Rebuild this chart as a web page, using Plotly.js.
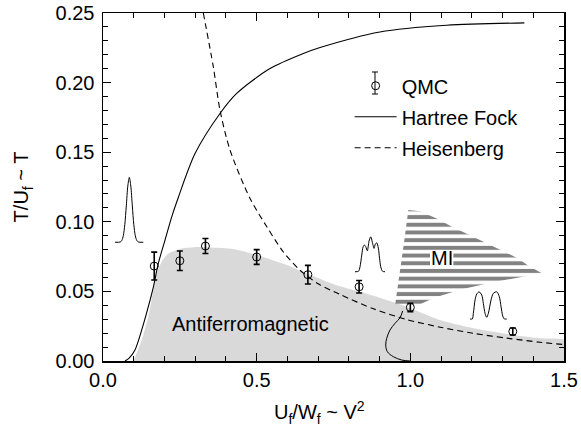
<!DOCTYPE html>
<html>
<head>
<meta charset="utf-8">
<script src="https://cdn.plot.ly/plotly-3.0.1.min.js"></script>
<style>
  html, body { margin: 0; padding: 0; background: #fff; }
  #chart { width: 581px; height: 431px; }
</style>
</head>
<body>
<div id="chart"></div>
<script>
// QMC Néel temperatures with statistical error bars
const qmcX   = [0.1667, 0.25, 0.3333, 0.5, 0.6667, 0.8333, 1.0, 1.3333];
const qmcY   = [0.0682, 0.0720, 0.0826, 0.0747, 0.0620, 0.0533, 0.0385, 0.0212];
const qmcErr = [0.0100, 0.0070, 0.0054, 0.0053, 0.0067, 0.0045, 0.0030, 0.0025];

// Hartree-Fock transition line
const hfX = [0.0716, 0.085, 0.104, 0.126, 0.1475, 0.164, 0.180, 0.2018, 0.2236, 0.245, 0.2994, 0.3807, 0.435, 0.5434, 0.6518, 0.7062, 0.901, 1.118, 1.371];
const hfY = [0.0, 0.002, 0.0079, 0.0223, 0.039, 0.0533, 0.0701, 0.0869, 0.1036, 0.1175, 0.149, 0.1778, 0.1922, 0.2101, 0.2209, 0.2252, 0.2364, 0.2412, 0.2429];

// Heisenberg limit
const heisX = [0.3264, 0.359, 0.3807, 0.4133, 0.4784, 0.533, 0.587, 0.641, 0.70, 0.771, 0.88, 0.988, 1.097, 1.205, 1.314, 1.422, 1.5];
const heisY = [0.25, 0.2113, 0.1802, 0.1515, 0.1168, 0.0964, 0.0783, 0.0652, 0.0555, 0.0478, 0.0375, 0.0298, 0.0243, 0.0199, 0.0164, 0.0135, 0.0118];

// Boundary of the antiferromagnetic phase (shaded)
const afX = [0.0987, 0.110, 0.126, 0.1475, 0.164, 0.175, 0.191, 0.2126, 0.256, 0.2994, 0.348, 0.424, 0.500, 0.598, 0.663, 0.750, 0.836, 0.900, 0.988, 1.097, 1.205, 1.314, 1.422, 1.5, 1.5];
const afY = [0.0, 0.006, 0.0151, 0.0318, 0.051, 0.063, 0.0713, 0.0773, 0.0809, 0.0818, 0.0815, 0.0804, 0.0761, 0.0689, 0.0628, 0.0552, 0.0497, 0.0455, 0.0390, 0.0294, 0.0235, 0.0194, 0.0163, 0.0151, 0.0];

// Mott-insulator region outline
const miX = [0.9936, 1.032, 1.091, 1.135, 1.189, 1.243, 1.297, 1.351, 1.384, 1.428, 1.276, 1.167, 1.080, 1.026, 0.950, 0.966, 0.9795];
const miY = [0.1084, 0.1075, 0.1019, 0.0964, 0.0909, 0.0852, 0.0797, 0.0737, 0.0684, 0.0630, 0.0569, 0.0515, 0.0457, 0.0402, 0.0395, 0.0625, 0.0852];

// Re-entrant line below the MI region
const reX = [0.975, 0.9665, 0.9502, 0.9339, 0.9232, 0.9199, 0.9252, 0.9447, 0.972, 0.999];
const reY = [0.036, 0.0311, 0.0271, 0.0223, 0.0163, 0.0115, 0.0067, 0.0031, 0.0007, 0.0];

// Spectral sketches: single band, three-peak and two-peak densities
const dos1X = [0.039, 0.0563, 0.0612, 0.0661, 0.0710, 0.0758, 0.0807, 0.0856, 0.0905, 0.0954, 0.1002, 0.1051, 0.1100, 0.1149, 0.1311];
const dos1Y = [0.0853, 0.0855, 0.0866, 0.0900, 0.0981, 0.1114, 0.1257, 0.1319, 0.1257, 0.1114, 0.0981, 0.0900, 0.0866, 0.0855, 0.0853];
const dos2X = [0.820, 0.8314, 0.8363, 0.8419, 0.8461, 0.8503, 0.8549, 0.8601, 0.8656, 0.8711, 0.8763, 0.8819, 0.8861, 0.8907, 0.8959, 0.8998, 0.9037, 0.9095, 0.9177];
const dos2Y = [0.0641, 0.0645, 0.0677, 0.0761, 0.0818, 0.0833, 0.0822, 0.0792, 0.0861, 0.0892, 0.0854, 0.0809, 0.0840, 0.0849, 0.0811, 0.0739, 0.0677, 0.0645, 0.0641];
const dos3X = [1.1943, 1.2018, 1.2050, 1.2106, 1.2161, 1.2236, 1.2324, 1.2375, 1.2431, 1.2486, 1.2538, 1.2626, 1.2701, 1.2812, 1.2896, 1.2952, 1.3007, 1.3059, 1.3137];
const dos3Y = [0.0302, 0.0302, 0.0342, 0.0438, 0.0481, 0.0497, 0.0474, 0.0414, 0.0342, 0.0314, 0.0342, 0.0438, 0.0486, 0.0497, 0.0462, 0.0390, 0.0323, 0.0302, 0.0302];

const FONT = 'Liberation Sans, Arial, Helvetica, sans-serif';
const sketch = (x, y) => ({
  x: x, y: y, type: 'scatter', mode: 'lines', showlegend: false, hoverinfo: 'skip',
  line: {color: 'black', width: 1, shape: 'spline', smoothing: 0.8}
});

const traces = [
  {x: afX, y: afY, type: 'scatter', mode: 'lines', fill: 'toself', fillcolor: '#d9d9d9',
   line: {width: 0, shape: 'spline', smoothing: 0.6}, showlegend: false, hoverinfo: 'skip'},
  {x: miX, y: miY, type: 'scatter', mode: 'lines', fill: 'toself', fillcolor: 'rgba(0,0,0,0)',
   fillpattern: {shape: '-', fgcolor: '#828282', bgcolor: 'rgba(0,0,0,0)', size: 7.7, solidity: 0.52, fillmode: 'replace'},
   line: {width: 0}, showlegend: false, hoverinfo: 'skip'},
  sketch(dos1X, dos1Y),
  sketch(dos2X, dos2Y),
  sketch(dos3X, dos3Y),
  {x: reX, y: reY, type: 'scatter', mode: 'lines', showlegend: false, hoverinfo: 'skip',
   line: {color: 'black', width: 1, shape: 'spline'}},
  {x: qmcX, y: qmcY, type: 'scatter', mode: 'markers', name: 'QMC', legendgroup: 'a',
   marker: {symbol: 'circle-open', size: 8, color: 'black', line: {width: 1, color: 'black'}},
   error_y: {type: 'data', array: qmcErr, visible: true, color: 'black', thickness: 1.6, width: 3}},
  {x: hfX, y: hfY, type: 'scatter', mode: 'lines', name: 'Hartree Fock', legendgroup: 'b',
   line: {color: 'black', width: 1.1, shape: 'spline', smoothing: 0.8}},
  {x: heisX, y: heisY, type: 'scatter', mode: 'lines', name: 'Heisenberg', legendgroup: 'c',
   line: {color: 'black', width: 1.1, dash: '6px,4px', shape: 'spline', smoothing: 0.8}}
];

const axisBase = {
  ticks: 'inside', ticklen: 8, tickwidth: 1.3, tickcolor: 'black',
  showline: true, linewidth: 1.5, linecolor: 'black', mirror: 'allticks',
  showgrid: false, zeroline: false, fixedrange: true,
  tickfont: {family: FONT, size: 20, color: 'black'}
};

// error-bar glyph through the QMC legend marker (paper coordinates)
const legX = 0.590, legY0 = 0.7672, legY1 = 0.8305, cap = 0.0065;

const layout = {
  width: 581, height: 431,
  margin: {l: 103, r: 17, t: 13, b: 70},
  paper_bgcolor: 'white', plot_bgcolor: 'white',
  font: {family: FONT, size: 20, color: 'black'},
  xaxis: Object.assign({}, axisBase, {
    range: [0, 1.5], tick0: 0, dtick: 0.5, tickformat: '.1f',
    minor: {dtick: 0.1, ticks: 'inside', ticklen: 5, tickwidth: 1, tickcolor: 'black', showgrid: false}
  }),
  yaxis: Object.assign({}, axisBase, {
    range: [0, 0.25], tick0: 0, dtick: 0.05, tickformat: '.2f', ticklabelstandoff: 3,
    minor: {dtick: 0.01, ticks: 'inside', ticklen: 5, tickwidth: 1, tickcolor: 'black', showgrid: false},
    title: {text: 'T/U<sub>f</sub> ~ T', font: {family: FONT, size: 20}, standoff: 21}
  }),
  showlegend: true,
  legend: {x: 0.535, y: 0.847, xanchor: 'left', yanchor: 'top', bgcolor: 'rgba(0,0,0,0)',
           font: {family: FONT, size: 20}, traceorder: 'grouped', tracegroupgap: 2, itemwidth: 42},
  shapes: [
    // white backing behind the MI label
    {type: 'rect', xref: 'x', yref: 'y', x0: 1.064, x1: 1.140, y0: 0.0677, y1: 0.0797,
     fillcolor: 'white', line: {width: 0}, layer: 'above'},
    {type: 'line', xref: 'paper', yref: 'paper', x0: legX, x1: legX, y0: legY0, y1: legY1,
     line: {color: 'black', width: 1}},
    {type: 'line', xref: 'paper', yref: 'paper', x0: legX - cap, x1: legX + cap, y0: legY0, y1: legY0,
     line: {color: 'black', width: 1}},
    {type: 'line', xref: 'paper', yref: 'paper', x0: legX - cap, x1: legX + cap, y0: legY1, y1: legY1,
     line: {color: 'black', width: 1}}
  ],
  annotations: [
    // horizontal axis title
    {x: 0.4696, y: -0.1494, xref: 'paper', yref: 'paper', xanchor: 'center', yanchor: 'middle',
     text: 'U<sub>f</sub>/W<sub>f</sub> ~ V<sup>2</sup>', showarrow: false,
     font: {family: FONT, size: 20, color: 'black'}},
    {x: 0.48, y: 0.0263, xref: 'x', yref: 'y', text: 'Antiferromagnetic', showarrow: false,
     font: {family: FONT, size: 20, color: 'black'}},
    {x: 1.102, y: 0.0737, xref: 'x', yref: 'y', text: 'MI', showarrow: false,
     font: {family: FONT, size: 20, color: 'black'}}
  ]
};

Plotly.newPlot('chart', traces, layout, {displayModeBar: false, staticPlot: true});
</script>
</body>
</html>
